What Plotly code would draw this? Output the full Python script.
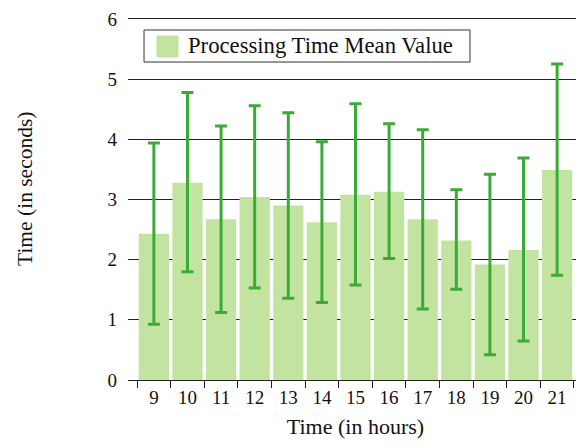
import plotly.graph_objects as go

hours = ["9", "10", "11", "12", "13", "14", "15", "16", "17", "18", "19", "20", "21"]
mean_time = [2.43, 3.28, 2.67, 3.04, 2.90, 2.62, 3.08, 3.13, 2.67, 2.32, 1.92, 2.16, 3.49]
err_top = [3.94, 4.78, 4.22, 4.56, 4.44, 3.96, 4.59, 4.26, 4.16, 3.16, 3.42, 3.69, 5.25]
err_bottom = [0.925, 1.80, 1.12, 1.53, 1.36, 1.29, 1.58, 2.02, 1.18, 1.51, 0.42, 0.65, 1.74]
series_name = "Processing Time Mean Value"

plus = [t - m for t, m in zip(err_top, mean_time)]
minus = [m - b for m, b in zip(mean_time, err_bottom)]

BAR = "#c2e4a0"
ERR = "#3bab38"
FONT = "Liberation Serif"

fig = go.Figure()
fig.add_trace(go.Bar(
    x=hours, y=mean_time, name=series_name,
    marker=dict(color=BAR, line=dict(width=0)),
    error_y=dict(type="data", array=plus, arrayminus=minus, symmetric=False,
                 color=ERR, thickness=3, width=6),
    showlegend=False,
))

# legend box drawn by hand (paper coordinates)
fig.add_shape(type="rect", xref="paper", yref="paper",
              x0=0.0352, x1=0.7516, y0=0.8571, y1=0.9434,
              line=dict(color="#333", width=1), fillcolor="white", layer="above")
fig.add_shape(type="rect", xref="paper", yref="paper",
              x0=0.0637, x1=0.1099, y0=0.8706, y1=0.9272,
              line=dict(color=BAR, width=1), fillcolor=BAR, layer="above")
fig.add_annotation(xref="paper", yref="paper", x=0.1275, y=0.9003,
                   xanchor="left", yanchor="middle", showarrow=False,
                   text=series_name, font=dict(family=FONT, size=22.7, color="#111"))
# y axis title
fig.add_annotation(xref="paper", yref="paper", x=-0.2264, y=0.5148,
                   xanchor="center", yanchor="middle", showarrow=False, textangle=-90,
                   text="Time (in seconds)", font=dict(family=FONT, size=21.5, color="#111"))

# page body has an 8px margin; figure is sized/placed to compensate
fig.update_layout(
    width=576, height=436,
    margin=dict(l=120, r=1, t=1, b=64),
    plot_bgcolor="white", paper_bgcolor="white",
    bargap=0.1, showlegend=False,
    font=dict(family=FONT, size=19, color="#111"),
    xaxis=dict(
        type="category", tickson="boundaries", ticks="outside", ticklen=7,
        tickcolor="#222", showline=True, linecolor="#222", linewidth=1,
        showgrid=False, range=[-0.77, 12.77], automargin=False,
        title=dict(text="Time (in hours)", font=dict(family=FONT, size=22), standoff=11),
        tickfont=dict(family=FONT, size=19),
    ),
    yaxis=dict(
        range=[0, 6.166], tickvals=[0, 1, 2, 3, 4, 5, 6], showgrid=True,
        gridcolor="#222", gridwidth=1, ticklabeloverflow="allow",
        zeroline=False, showline=False, ticks="", ticklabelstandoff=10,
        automargin=False,
        tickfont=dict(family=FONT, size=19),
    ),
)

fig.write_html("out.html")
